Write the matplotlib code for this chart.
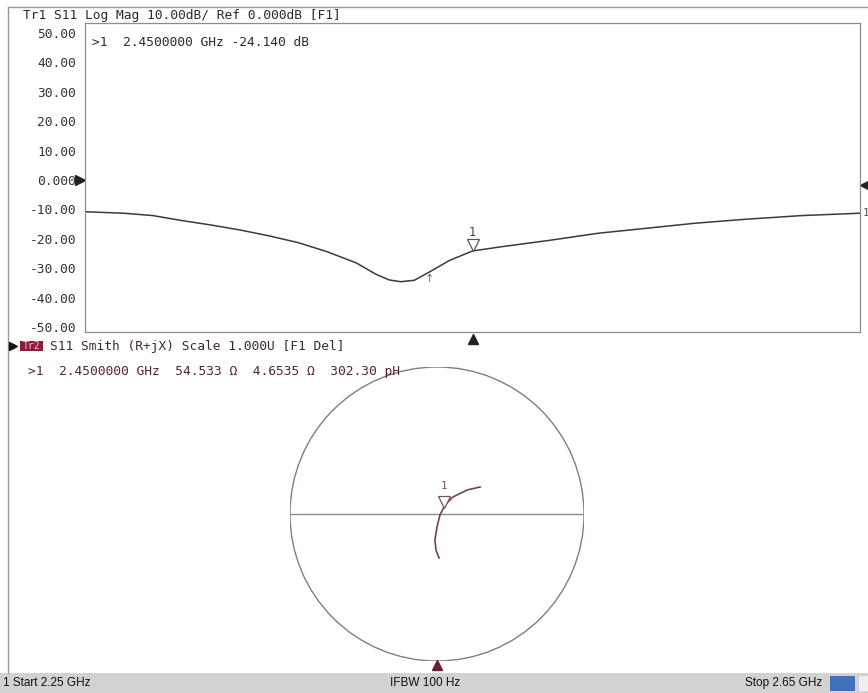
import matplotlib
matplotlib.use("Agg")
import matplotlib.pyplot as plt
from matplotlib.patches import Circle, Rectangle
from matplotlib.lines import Line2D
from matplotlib.transforms import offset_copy

W, H = 868, 693
MONO = "DejaVu Sans Mono"

# Tr1: S11 log magnitude sweep 2.25 - 2.65 GHz
freq_ghz = [2.25, 2.27, 2.285, 2.30, 2.315, 2.33, 2.345, 2.36, 2.375, 2.39,
            2.40, 2.407, 2.413, 2.42, 2.428, 2.438, 2.45, 2.465, 2.49, 2.515,
            2.54, 2.565, 2.59, 2.62, 2.65]
s11_db = [-10.8, -11.3, -12.1, -13.8, -15.3, -17.0, -19.0, -21.3, -24.4, -28.2,
          -32.0, -34.0, -34.6, -34.1, -31.2, -27.4, -24.14, -22.7, -20.5, -18.1,
          -16.4, -14.7, -13.4, -12.1, -11.3]

# Tr2: same sweep on the Smith chart (reflection coefficient)
gamma_re = [0.014, -0.007, -0.014, 0.000, 0.020, 0.045, 0.068, 0.109, 0.204, 0.293]
gamma_im = [-0.299, -0.245, -0.177, -0.088, -0.007, 0.043, 0.075, 0.116, 0.163, 0.184]

y_ticks = [50, 40, 30, 20, 10, 0, -10, -20, -30, -40, -50]
y_labels = ["50.00", "40.00", "30.00", "20.00", "10.00", "0.000",
            "-10.00", "-20.00", "-30.00", "-40.00", "-50.00"]

marker_freq = 2.45
marker_db = -24.14
marker_r = 54.533
marker_x = 4.6535
marker_l_ph = 302.30
z0 = 50.0


def fx(x):
    return x / W


def fy(y):
    return 1 - y / H


fig = plt.figure(figsize=(W / 100, H / 100), dpi=100)
fig.patch.set_facecolor("white")

# outer frame
fig.add_artist(Line2D([fx(8), fx(8)], [fy(7), fy(673)], color="#9a9a9a", lw=1.0))
fig.add_artist(Line2D([fx(8), fx(868)], [fy(7), fy(7)], color="#9a9a9a", lw=1.0))

# ---- Tr1 log mag ----
ax1 = fig.add_axes([fx(85), fy(332), (860 - 85) / W, (332 - 23) / H])
ax1.plot(freq_ghz, s11_db, color="#3a3a3a", lw=1.1)
ax1.set_xlim(2.25, 2.65)
ax1.set_ylim(-(332 - 180) / 2.94, (180 - 23) / 2.94)
ax1.set_xticks([])
ax1.set_yticks(y_ticks)
ax1.set_yticklabels(y_labels, family=MONO)
ax1.tick_params(axis="y", length=0, pad=6.5, labelsize=9.3, colors="#333333")
for s in ax1.spines.values():
    s.set_color("#8c8c8c")
    s.set_linewidth(0.9)

# marker 1
tri_off = offset_copy(ax1.transData, fig=fig, y=4.5, units="points")
ax1.plot([marker_freq], [marker_db], marker="v", ms=8, mfc="white", mec="#555555",
         mew=0.9, transform=tri_off, clip_on=False)
ax1.text(marker_freq, marker_db + 6.3, "1", ha="center", va="center", fontsize=8.5,
         family=MONO, color="#444444")
ax1.text(2.428, -32.0, "\u2191", ha="center", va="top", fontsize=8, color="#666666")
ax1.text(1.003, s11_db[-1], "1", transform=ax1.get_yaxis_transform(), ha="left",
         va="center", fontsize=8, family=MONO, color="#555555", clip_on=False)

# reference level and stimulus markers
ax1.plot([-0.006], [0], marker=">", ms=7, color="#222222",
         transform=ax1.get_yaxis_transform(), clip_on=False)
ax1.plot([1.0065], [-1.7], marker="<", ms=7, color="#222222",
         transform=ax1.get_yaxis_transform(), clip_on=False)
ax1.plot([marker_freq], [-0.022], marker="^", ms=7, color="#222222",
         transform=ax1.get_xaxis_transform(), clip_on=False)

fig.text(fx(23), fy(15), "Tr1 S11 Log Mag 10.00dB/ Ref 0.000dB [F1]",
         family=MONO, fontsize=9.3, color="#2a2a2a", va="center")
fig.text(fx(92), fy(42), f">1  {marker_freq:.7f} GHz {marker_db:.3f} dB",
         family=MONO, fontsize=9.3, color="#2a2a2a", va="center")

# ---- Tr2 Smith chart ----
fig.add_artist(Line2D([fx(13)], [fy(346)], marker=">", ms=6, color="#111111", lw=0))
fig.add_artist(Rectangle((fx(20), fy(351)), (43 - 20) / W, 10 / H,
                         transform=fig.transFigure, color="#8c1c3c", lw=0))
fig.text(fx(31.5), fy(346), "Tr2", family=MONO, fontsize=7, color="#e8c8d0",
         ha="center", va="center")
fig.text(fx(50), fy(346), "S11 Smith (R+jX) Scale 1.000U [F1 Del]",
         family=MONO, fontsize=9.3, color="#3d2a30", va="center")
fig.text(fx(28), fy(372),
         f">1  {marker_freq:.7f} GHz  {marker_r:.3f} \u03a9  {marker_x:.4f} \u03a9  {marker_l_ph:.2f} pH",
         family=MONO, fontsize=9.3, color="#5c2035", va="center")

ax2 = fig.add_axes([fx(290), fy(661), 294 / W, 294 / H])
ax2.set_xlim(-1, 1)
ax2.set_ylim(-1, 1)
ax2.axis("off")
ax2.add_patch(Circle((0, 0), 1, fill=False, ec="#8a7a80", lw=1.0))
ax2.plot([-1, 1], [0, 0], color="#8a8a8a", lw=1.0)
ax2.plot(gamma_re, gamma_im, color="#6e4455", lw=1.2)

z = complex(marker_r, marker_x) / z0
g = (z - 1) / (z + 1)
tri_off2 = offset_copy(ax2.transData, fig=fig, y=4.5, units="points")
ax2.plot([g.real], [g.imag], marker="v", ms=8, mfc="white", mec="#7a5060",
         mew=0.9, transform=tri_off2, clip_on=False)
ax2.text(g.real, g.imag + 0.15, "1", ha="center", va="center", fontsize=8,
         family=MONO, color="#7a5060")
ax2.plot([0], [-1.03], marker="^", ms=7, color="#6a1c34", clip_on=False)

# ---- status bar ----
fig.add_artist(Rectangle((0, 0), 1, 20 / H, transform=fig.transFigure,
                         color="#d2d2d2", lw=0))
fig.add_artist(Rectangle((fx(830), 2 / H), 25 / W, 15 / H, transform=fig.transFigure,
                         color="#3d72b8", lw=0))
fig.add_artist(Rectangle((fx(859), 2 / H), 9 / W, 15 / H, transform=fig.transFigure,
                         color="#eeeeee", lw=0))
bar_font = dict(family="Liberation Sans", fontsize=8.5, color="#111111", va="center")
fig.text(fx(3), fy(683), "1 Start 2.25 GHz", **bar_font)
fig.text(fx(390), fy(683), "IFBW 100 Hz", **bar_font)
fig.text(fx(745), fy(683), "Stop 2.65 GHz", **bar_font)

fig.savefig("out.png", dpi=100)
